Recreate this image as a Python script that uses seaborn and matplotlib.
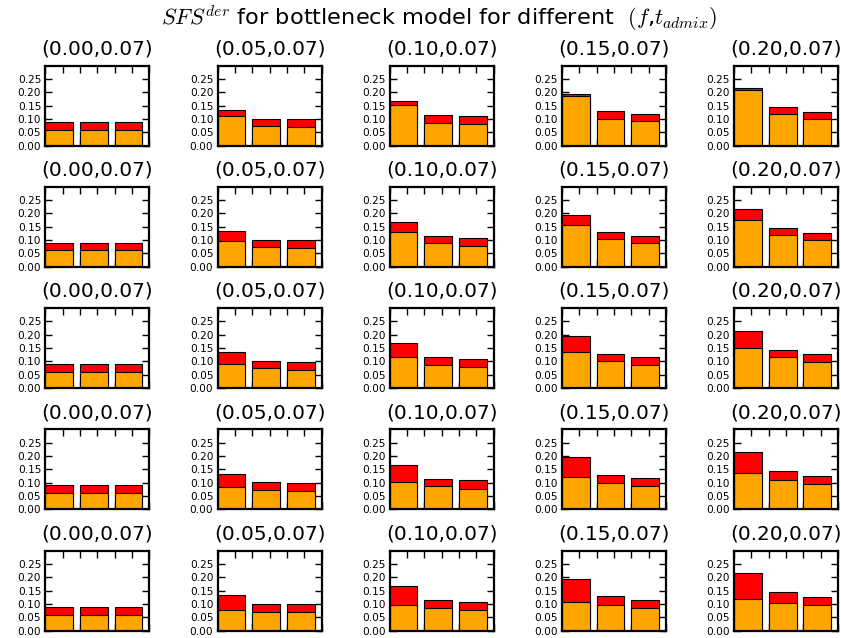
import numpy as np
import pandas as pd
import matplotlib
matplotlib.use("Agg")
import matplotlib.pyplot as plt
import seaborn as sns

# ---- data ----
f_values = ["0.00", "0.05", "0.10", "0.15", "0.20"]
t_admix = "0.07"
bar_labels = ["1", "2", "3"]

# total height of each bar (red top), per column (f value)
totals_f000 = [0.090, 0.090, 0.090]
totals_f005 = [0.134, 0.101, 0.099]
totals_f010 = [0.168, 0.115, 0.109]
totals_f015 = [0.195, 0.129, 0.117]
totals_f020 = [0.216, 0.144, 0.127]

# orange part, per row, columns f = 0.00 .. 0.20
orange_row1 = [[0.060, 0.060, 0.060], [0.111, 0.072, 0.070], [0.153, 0.086, 0.081],
               [0.185, 0.101, 0.092], [0.209, 0.120, 0.101]]
orange_row2 = [[0.062, 0.062, 0.062], [0.098, 0.074, 0.070], [0.130, 0.088, 0.079],
               [0.156, 0.103, 0.090], [0.175, 0.119, 0.099]]
orange_row3 = [[0.060, 0.060, 0.060], [0.091, 0.075, 0.069], [0.115, 0.088, 0.079],
               [0.136, 0.102, 0.088], [0.152, 0.116, 0.099]]
orange_row4 = [[0.060, 0.060, 0.060], [0.084, 0.073, 0.069], [0.102, 0.086, 0.078],
               [0.121, 0.099, 0.088], [0.135, 0.109, 0.096]]
orange_row5 = [[0.060, 0.060, 0.060], [0.079, 0.072, 0.069], [0.097, 0.085, 0.078],
               [0.108, 0.095, 0.086], [0.120, 0.104, 0.095]]

totals = [totals_f000, totals_f005, totals_f010, totals_f015, totals_f020]
orange_rows = [orange_row1, orange_row2, orange_row3, orange_row4, orange_row5]
y_ticks = [0.00, 0.05, 0.10, 0.15, 0.20, 0.25]

# ---- style ----
sns.set_style("white")
plt.rcParams["font.family"] = ["DejaVu Sans"]
plt.rcParams["mathtext.fontset"] = "cm"
plt.rcParams["text.color"] = "black"
plt.rcParams["axes.labelcolor"] = "black"
plt.rcParams["xtick.color"] = "black"
plt.rcParams["ytick.color"] = "black"

W, H = 841, 638
fig = plt.figure(figsize=(W / 100, H / 100), dpi=100)

ax_w, ax_h = 104, 80
lefts = [45.3, 217.5, 389.7, 561.9, 734.1]
bottoms = [145.5, 266.8, 388.1, 509.4, 630.7]

for r in range(5):
    for c in range(5):
        ax = fig.add_axes([lefts[c] / W, 1 - bottoms[r] / H, ax_w / W, ax_h / H])
        df = pd.DataFrame({"bin": bar_labels,
                           "total": totals[c],
                           "orange": orange_rows[r][c]})
        sns.barplot(data=df, x="bin", y="total", color="#ff0000", saturation=1,
                    edgecolor="black", linewidth=0.8, width=0.8, ax=ax, errorbar=None)
        sns.barplot(data=df, x="bin", y="orange", color="#ffa500", saturation=1,
                    edgecolor="black", linewidth=0.8, width=0.8, ax=ax, errorbar=None)
        ax.set_xlim(-0.4, 2.6)
        ax.set_ylim(0, 0.30)
        ax.set_xticks(np.arange(-0.4, 2.61, 0.5))
        ax.set_xticklabels([])
        ax.set_yticks(y_ticks)
        ax.set_yticklabels([f"{v:.2f}" for v in y_ticks], fontsize=7.6, color="black")
        ax.set_xlabel("")
        ax.set_ylabel("")
        ax.tick_params(axis="both", direction="in", length=5, width=1,
                       top=True, right=True, bottom=True, left=True, pad=3,
                       colors="black")
        for s in ax.spines.values():
            s.set_visible(True)
            s.set_linewidth(1.6)
            s.set_color("black")
        ax.set_title(f"({f_values[c]},{t_admix})", fontsize=14.4, pad=8, color="black")

fig.text(439 / W, 1 - 24.7 / H,
         r"$SFS^{der}$ for bottleneck model for different  $(f$,$t_{admix})$",
         ha="center", va="baseline", fontsize=16.2, color="black")

fig.savefig("out.png", dpi=100)
